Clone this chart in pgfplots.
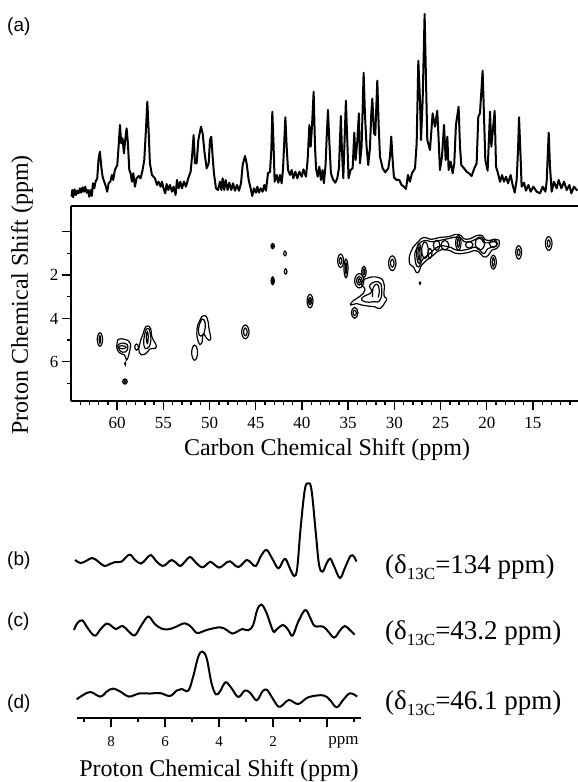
\documentclass[border=0pt]{standalone}
\usepackage{graphicx}
\usepackage{fontspec}
\setmainfont{Liberation Serif}
\newfontfamily\arial{Liberation Sans}
\usepackage{pgfplots}
\pgfplotsset{compat=1.18}
\pgfplotsset{every axis/.append style={scale only axis, anchor=south west, /pgf/number format/assume math mode=true}}
\tikzset{ct/.style={black, line width=1.2pt, smooth cycle, tension=0.9},
         co/.style={black, line width=1.2pt, smooth, tension=0.7}}
\begin{document}
\begin{tikzpicture}[x=1pt,y=1pt]
\path[use as bounding box] (0,0) rectangle (578pt,782pt);
% ---------- (a) 1D carbon spectrum
\begin{axis}[at={(71pt,582pt)}, width=507pt, height=200pt, x dir=reverse,
  xmin=10.13, xmax=65, ymin=0, ymax=200, hide axis, clip=false]
\addplot[black, line width=2pt, line join=round] coordinates {
(64.94,3.3)(64.86,10)(64.76,2.7)(64.61,10.7)(64.47,5)(64.32,9.3)(64.18,6.7)(64.03,11.7)(63.89,7.3)(63.75,12.7)
(63.60,8.3)(63.46,13.3)(63.31,7.3)(63.17,10)(63.02,3.3)(62.88,10)(62.74,4)(62.63,16.7)(62.48,11.7)(62.34,18.3)
(62.16,21.7)(62.01,41.7)(61.87,48.3)(61.72,33.3)(61.58,23.3)(61.40,18.3)(61.22,13.3)(61.08,8.3)(60.93,16.7)(60.75,18.3)
(60.57,25)(60.43,20)(60.25,30)(59.99,35)(59.85,53.3)(59.70,75)(59.56,56.7)(59.42,61.7)(59.27,46.7)(59.13,60)
(58.98,71.7)(58.84,56.7)(58.69,30)(58.55,26.7)(58.40,18.3)(58.26,26.7)(58.08,13.3)(57.90,21.7)(57.68,24)(57.47,21.7)
(57.25,30)(57.07,40)(56.89,70)(56.74,98.3)(56.60,70)(56.46,36.7)(56.24,25)(55.91,21.7)(55.70,15)(55.52,18.3)
(55.30,13.3)(55.16,18.3)(54.94,10)(54.80,6.7)(54.65,16)(54.47,10)(54.29,15)(54.07,8.3)(53.89,13.3)(53.68,5)
(53.53,20)(53.35,11.7)(53.17,18.3)(52.99,11.7)(52.77,18.3)(52.56,13.3)(52.31,21.7)(52.05,28.3)(51.87,46.7)(51.73,65)
(51.58,36.7)(51.40,36.7)(51.22,60)(50.93,73.3)(50.75,66.7)(50.54,46.7)(50.32,31.7)(50.10,36.7)(49.96,60)(49.82,63.3)
(49.67,43.3)(49.53,26.7)(49.31,11.7)(49.09,10)(48.88,18.3)(48.73,10)(48.59,21.7)(48.41,10)(48.26,20)(48.05,10)
(47.87,17.3)(47.65,10)(47.47,16.7)(47.25,9.3)(47.04,15)(46.82,9.3)(46.60,16.7)(46.42,35)(46.17,44)(45.99,36.7)
(45.77,20)(45.56,11.7)(45.38,4)(45.20,11.7)(44.98,7.3)(44.83,13.3)(44.65,7.3)(44.47,11.7)(44.26,8.3)(44.08,15)
(43.90,9.3)(43.68,26.7)(43.46,28.3)(43.32,50)(43.21,88.3)(43.07,53.3)(42.96,18.3)(42.74,25)(42.56,17.3)(42.38,25)
(42.20,16.7)(42.06,30)(41.91,60)(41.80,82.7)(41.66,53.3)(41.51,30)(41.30,25)(41.12,30)(40.94,21.7)(40.72,28.3)
(40.50,21.7)(40.29,28.3)(40.03,23.3)(39.85,30.7)(39.57,23.3)(39.39,40)(39.20,75)(39.06,53.3)(38.92,73.3)(38.74,108.3)
(38.59,53.3)(38.48,31.7)(38.30,23.3)(38.12,33.3)
(37.95,20)(37.77,30)(37.63,16.7)(37.45,35)(37.34,60)(37.19,90)(37.05,60)(36.87,26.7)(36.62,20)(36.40,17.3)
(36.18,21.7)(36.00,31.7)(35.89,60)(35.79,84)(35.68,50)(35.53,21.7)(35.39,60)(35.25,99.3)(35.10,60)(34.96,21.7)
(34.74,30)(34.52,31.7)(34.34,67.3)(34.20,40)(34.02,58.3)(33.84,86.7)(33.73,36.7)(33.55,53.3)(33.33,127.3)(33.19,86.7)
(33.01,53.3)(32.83,35)(32.65,51.7)(32.50,86.7)(32.39,101.3)(32.21,66.7)(32.07,65)(31.85,119.3)(31.71,76.7)(31.56,43.3)
(31.27,31.7)(30.99,27.7)(30.66,31.7)(30.48,43.3)(30.34,63.3)(30.19,40)(30.05,22.7)(29.76,20)(29.47,20)(29.22,15)
(28.97,13.3)(28.75,11)(28.53,25)(28.32,18.3)(28.10,26.7)(27.77,31.7)(27.59,56.7)(27.41,139.3)(27.23,100)(27.12,60)
(26.94,100)(26.73,186)(26.58,120)(26.44,60)(26.15,50)(25.86,86.7)(25.61,73.3)(25.36,89.3)(25.21,60)(25.07,30)
(24.85,43.3)(24.63,75)(24.45,40)(24.27,63.3)(24.13,30)(23.91,38.3)(23.70,26.7)(23.52,36.7)(23.34,75)(23.05,93.3)
(22.90,53.3)(22.76,35)(22.47,31.7)(22.18,28.3)(21.93,26.7)(21.64,24)(21.35,31.7)(21.10,36.7)(20.92,83.3)(20.74,86.7)
(20.45,129.3)(20.30,83.3)(20.16,40)(19.91,29.3)(19.65,88.3)(19.51,53.3)(19.37,66.7)(19.15,89.3)(19.00,33.3)(18.79,26.7)
(18.57,18.3)(18.35,25)(18.14,18.3)(17.92,23.3)(17.70,16.7)(17.42,25)(17.20,15)(16.98,7.3)(16.77,20)(16.62,50)
(16.51,82.7)(16.37,50)(16.23,13.3)(15.97,17.3)(15.76,9.3)(15.50,15)(15.25,8.3)(14.96,13.3)(14.60,8.3)(14.24,6.7)
(13.95,13.3)(13.66,8.3)(13.52,18.3)(13.30,67.3)(13.16,33.3)(12.98,8.3)(12.73,18.3)(12.44,11.7)(12.22,20)(11.93,11.7)
(11.64,18.3)(11.35,10)(11.06,15)(10.85,6.7)(10.56,13.3)(10.20,9.3)
};
\end{axis}
% ---------- 2D contour map
\begin{axis}[at={(71pt,381pt)}, width=507pt, height=195pt, x dir=reverse, y dir=reverse,
  xmin=10.13, xmax=65, ymin=-1.19, ymax=7.81,
  axis x line*=bottom, axis y line*=left,
  axis line style={line width=1.4pt, -},
  xtick={60,55,50,45,40,35,30,25,20,15},
  minor xtick={11,12,13,14,16,17,18,19,21,22,23,24,26,27,28,29,31,32,33,34,36,37,38,39,41,42,43,44,46,47,48,49,51,52,53,54,56,57,58,59,61,62,63,64},
  ytick={0,2,4,6}, yticklabels={,2,4,6}, minor ytick={1,3,5,7},
  tick align=outside,
  major tick length=9pt, minor tick length=4pt,
  tick style={black, line width=1.4pt},
  xticklabel style={font=\fontsize{17}{17}\selectfont, yshift=-4pt},
  yticklabel style={font=\fontsize{17}{17}\selectfont},
  clip=false]
\draw[black, line width=1.4pt] (rel axis cs:0,1) -- (rel axis cs:1,1);
% left half
\addplot[ct] coordinates {(42.99,.66)(43.17,.78)(43.35,.66)(43.17,.54)};
\addplot[ct] coordinates {(43.10,.66)(43.17,.71)(43.24,.66)(43.17,.61)};
\addplot[ct] coordinates {(41.70,1.0)(41.84,1.11)(41.98,1.0)(41.84,.89)};
\addplot[ct] coordinates {(41.63,1.83)(41.77,1.95)(41.91,1.83)(41.77,1.71)};
\addplot[ct] coordinates {(42.99,2.26)(43.17,2.44)(43.35,2.26)(43.17,2.08)};
\addplot[ct] coordinates {(43.10,2.26)(43.17,2.36)(43.24,2.26)(43.17,2.16)};
\addplot[ct] coordinates {(38.81,3.2)(39.13,3.51)(39.45,3.2)(39.13,2.89)};
\addplot[ct] coordinates {(38.96,3.2)(39.13,3.37)(39.30,3.2)(39.13,3.03)};
\addplot[ct] coordinates {(39.06,3.2)(39.13,3.28)(39.20,3.2)(39.13,3.12)};
\addplot[ct] coordinates {(45.73,4.62)(46.13,4.94)(46.53,4.62)(46.13,4.30)};
\addplot[ct] coordinates {(45.93,4.62)(46.13,4.80)(46.33,4.62)(46.13,4.44)};
\addplot[ct] coordinates {(51.30,5.58)(51.62,5.93)(51.94,5.58)(51.62,5.23)};
\addplot[ct] coordinates {(61.58,4.97)(61.87,5.28)(62.16,4.97)(61.87,4.66)};
\addplot[ct] coordinates {(61.79,4.97)(61.87,5.14)(61.95,4.97)(61.87,4.80)};
\addplot[ct] coordinates {(58.91,6.91)(59.16,7.03)(59.41,6.91)(59.16,6.79)};
\addplot[ct] coordinates {(59.08,6.91)(59.16,6.96)(59.24,6.91)(59.16,6.86)};
\addplot[ct] coordinates {(59.08,6.09)(59.13,6.15)(59.18,6.09)(59.13,6.03)};
\addplot[ct] coordinates {(57.70,5.32)(57.90,5.46)(58.10,5.32)(57.90,5.18)};
\addplot[ct] coordinates {(59.99,5.08)(59.78,4.95)(59.16,4.97)(58.69,5.08)(58.55,5.31)(58.73,5.65)(58.98,5.92)(59.20,5.69)(59.78,5.58)(60.06,5.31)};
\addplot[ct] coordinates {(59.78,5.18)(59.16,5.15)(58.84,5.31)(59.13,5.55)(59.70,5.49)(59.92,5.34)};
\addplot[ct] coordinates {(59.78,5.28)(59.16,5.28)(59.16,5.38)(59.70,5.38)};
\addplot[ct] coordinates {(56.74,4.35)(56.38,4.46)(56.24,4.85)(55.77,5.31)(56.46,5.41)(57.0,5.65)(57.61,5.58)(57.54,5.15)(57.18,4.69)(57.0,4.46)};
\addplot[ct] coordinates {(56.71,4.46)(56.46,4.62)(56.38,5.08)(56.74,5.38)(57.11,5.23)(57.0,4.69)};
\addplot[ct] coordinates {(56.74,4.62)(56.64,4.85)(56.74,5.15)(56.85,4.85)};
\addplot[ct] coordinates {(50.68,3.88)(50.25,4.0)(50.07,4.46)(49.89,4.97)(50.32,4.92)(50.68,4.72)(50.86,5.15)(51.22,5.08)(51.37,4.54)(51.04,4.08)};
\addplot[ct] coordinates {(50.75,4.03)(50.46,4.23)(50.57,4.61)(50.75,4.77)(51.11,4.77)(51.19,4.46)(50.97,4.15)};
% right half
\addplot[ct] coordinates {(35.50,1.34)(35.82,1.65)(36.14,1.34)(35.82,1.03)};
\addplot[ct] coordinates {(35.68,1.34)(35.82,1.49)(35.96,1.34)(35.82,1.19)};
\addplot[ct] coordinates {(35.02,1.69)(35.24,2.12)(35.46,1.69)(35.24,1.26)};
\addplot[ct] coordinates {(35.16,1.69)(35.24,1.94)(35.32,1.69)(35.24,1.44)};
\addplot[ct] coordinates {(33.05,1.85)(33.30,2.11)(33.55,1.85)(33.30,1.59)};
\addplot[ct] coordinates {(33.20,1.85)(33.30,1.98)(33.40,1.85)(33.30,1.72)};
\addplot[ct] coordinates {(33.30,2.26)(33.80,2.59)(34.30,2.26)(33.80,1.93)};
\addplot[ct] coordinates {(33.50,2.26)(33.80,2.46)(34.10,2.26)(33.80,2.06)};
\addplot[ct] coordinates {(33.68,2.26)(33.80,2.36)(33.92,2.26)(33.80,2.16)};
\addplot[ct] coordinates {(29.83,1.45)(30.23,1.79)(30.63,1.45)(30.23,1.11)};
\addplot[ct] coordinates {(30.03,1.45)(30.23,1.63)(30.43,1.45)(30.23,1.27)};
\addplot[ct] coordinates {(16.23,.95)(16.55,1.26)(16.87,.95)(16.55,.64)};
\addplot[ct] coordinates {(16.40,.95)(16.55,1.10)(16.70,.95)(16.55,.80)};
\addplot[ct] coordinates {(12.94,.54)(13.30,.86)(13.66,.54)(13.30,.22)};
\addplot[ct] coordinates {(13.14,.54)(13.30,.70)(13.46,.54)(13.30,.38)};
\addplot[ct] coordinates {(18.97,1.40)(19.29,1.72)(19.61,1.40)(19.29,1.08)};
\addplot[ct] coordinates {(19.17,1.40)(19.29,1.60)(19.41,1.40)(19.29,1.20)};
\addplot[ct] coordinates {(27.15,2.37)(27.23,2.42)(27.31,2.37)(27.23,2.32)};
\addplot[ct] coordinates {(33.94,3.74)(34.30,3.99)(34.66,3.74)(34.30,3.49)};
\addplot[ct] coordinates {(34.12,3.74)(34.30,3.86)(34.48,3.74)(34.30,3.62)};
\addplot[ct] coordinates {(33.55,2.39)(33.01,2.15)(31.74,2.11)(31.13,2.39)(31.13,2.92)(30.84,3.08)(31.02,3.26)(31.56,3.54)(32.11,3.46)(32.83,3.43)(33.55,3.38)(34.09,3.31)(34.74,3.38)(34.45,3.18)(33.80,3.0)(33.19,2.69)};
\addplot[ct] coordinates {(32.65,2.46)(31.74,2.31)(31.38,2.62)(31.56,3.15)(32.29,3.23)(33.19,3.23)(33.55,3.08)(33.01,2.92)(32.47,2.77)};
\addplot[co] coordinates {(32.36,3.0)(32.29,2.57)(31.85,2.42)(31.64,2.69)(31.74,3.03)};
% band
\addplot[ct] coordinates {(28.39,1.39)(28.14,.85)(27.41,.46)(26.80,.26)(25.97,.35)(25.07,.26)(24.17,.23)(23.08,.12)(22.18,.35)(20.74,.15)(20.02,.39)(18.93,.35)(18.64,.54)(18.93,.77)(19.47,.85)(19.83,1.08)(20.38,1.15)(21.10,.88)(22.18,.97)(23.26,1.0)(24.17,.85)(25.07,.85)(25.79,1.08)(26.51,1.31)(27.05,1.54)(27.49,1.89)(27.95,1.62)};
\addplot[ct] coordinates {(27.77,1.23)(27.59,.77)(26.87,.42)(25.79,.46)(24.53,.35)(23.08,.26)(22.18,.48)(20.81,.31)(20.20,.51)(19.11,.46)(19.0,.66)(19.83,.77)(20.38,1.0)(21.10,.72)(22.18,.82)(23.19,.85)(24.17,.69)(25.25,.69)(26.15,1.0)(26.87,1.23)(27.41,1.62)};
\addplot[ct] coordinates {(24.10,.62)(24.53,.84)(24.96,.62)(24.53,.40)};
\addplot[ct] coordinates {(22.79,.51)(23.08,.85)(23.37,.51)(23.08,.17)};
\addplot[ct] coordinates {(22.96,.51)(23.08,.71)(23.20,.51)(23.08,.31)};
\addplot[ct] coordinates {(20.24,.54)(20.74,.84)(21.24,.54)(20.74,.24)};
\addplot[ct] coordinates {(18.86,.54)(19.29,.72)(19.72,.54)(19.29,.36)};
\addplot[ct] coordinates {(25.07,.62)(25.43,.85)(25.79,.62)(25.43,.39)};
\addplot[ct] coordinates {(27.09,1.0)(27.34,1.46)(27.59,1.0)(27.34,.54)};
\addplot[ct] coordinates {(27.24,1.0)(27.34,1.30)(27.44,1.0)(27.34,.70)};
\addplot[ct] coordinates {(26.33,.85)(26.69,1.23)(27.05,.85)(26.69,.47)};
\addplot[ct] coordinates {(25.93,1.0)(26.15,1.23)(26.37,1.0)(26.15,.77)};
\addplot[ct] coordinates {(21.50,.60)(21.90,.75)(22.30,.60)(21.90,.45)};
\end{axis}
% ---------- 1D proton slices
\begin{axis}[at={(76.7pt,63.7pt)}, width=284pt, height=250pt, x dir=reverse,
  xmin=-1.24, xmax=9.27, ymin=0, ymax=250,
  axis x line*=bottom, axis y line=none,
  axis line style={line width=1.8pt, -},
  xtick={0,2,4,6,8}, xticklabels={,2,4,6,8}, minor xtick={-1,1,3,5,7,9},
  tick align=outside, major tick length=9pt, minor tick length=4pt,
  tick style={black, line width=1.6pt},
  xticklabel style={font=\fontsize{15}{15}\selectfont, yshift=-6pt},
  clip=false]
\addplot[black, line width=2pt, smooth, tension=0.6] coordinates {
(9.33,158.3)(9.12,155.3)(8.90,157.7)(8.69,160.3)(8.47,156.7)(8.25,152.3)(8.04,154.3)(7.85,156.3)(7.61,156.7)(7.32,163.7)
(7.11,158.3)(6.89,154.7)(6.71,159)(6.53,163.3)(6.31,156.7)(6.09,152.3)(5.92,155)(5.76,158.3)(5.57,155)(5.43,152.3)
(5.23,157.7)(5.07,161.3)(4.86,155.7)(4.62,151)(4.38,155.7)(4.28,156)(4.00,150.7)(3.79,154.3)(3.60,157)(3.29,151.3)
(2.98,158.3)(2.80,155)(2.64,152.3)(2.43,163.3)(2.24,168.3)(2.04,160)(1.81,150)(1.63,157.7)(1.53,159)(1.38,150)
(1.22,142.3)(1.11,150)(0.99,188.3)(0.83,228.3)(0.70,235)(0.58,228.3)(0.42,185)(0.30,153.3)(0.17,146.7)(0.02,155)
(-0.11,159.7)(-0.26,151.7)(-0.47,140.3)(-0.65,150)(-0.86,162.3)(-0.99,161.7)(-1.08,156.7)};
\addplot[black, line width=2pt, smooth, tension=0.6] coordinates {
(9.37,88.3)(9.25,95)(9.07,98)(8.90,91.7)(8.72,85)(8.57,82.7)(8.39,89)(8.16,94.7)(7.98,92.3)(7.82,89.3)
(7.57,92.3)(7.36,87.3)(7.12,83)(6.87,93.3)(6.62,101.7)(6.38,94.3)(6.13,89.7)(5.88,89)(5.64,91)(5.27,95)
(5.02,91)(4.81,85.3)(4.46,88.3)(3.97,91)(3.72,88.3)(3.51,84.7)(3.29,87.3)(3.13,89.3)(2.92,88)(2.74,93.3)
(2.59,108.3)(2.43,113.7)(2.24,105)(2.00,87.3)(1.87,89)(1.63,93.3)(1.44,88.3)(1.28,82.7)(1.07,96.7)(0.81,108.3)
(0.62,100)(0.46,92.3)(0.15,91.7)(-0.04,86.7)(-0.26,80.7)(-0.47,87.7)(-0.65,92.3)(-0.84,88.3)(-1.01,83.7)};
\addplot[black, line width=2pt, smooth, tension=0.6] coordinates {
(9.27,19)(9.03,23.3)(8.76,26.3)(8.39,21.7)(8.16,26.7)(7.92,29.7)(7.61,26)(7.34,21.7)(6.93,25)(6.56,24.7)
(6.19,25.3)(5.82,22.3)(5.57,27.7)(5.39,29.3)(5.14,27.7)(4.96,41.7)(4.77,61.7)(4.62,66.7)(4.46,60)(4.28,35)
(4.12,24)(3.97,26.7)(3.76,36)(3.54,30)(3.29,21.3)(3.05,27.7)(2.86,25.7)(2.61,18)(2.40,26.7)(2.24,28.7)
(2.06,21.7)(1.81,11.7)(1.65,13.3)(1.41,18.3)(1.07,14.3)(0.70,21)(0.15,23)(-0.10,18.3)(-0.35,11)(-0.59,18.3)
(-0.84,25)(-1.11,21.7)};
\end{axis}
% ---------- texts
\def\rl{\fontsize{24}{24}\selectfont}
\def\sb#1{\raisebox{-0.22em}{\fontsize{17}{17}\selectfont #1}}
\node[font=\rl] at (327pt,332pt) {Carbon Chemical Shift (ppm)};
\node[font=\rl, rotate=90] at (22pt,487pt) {Proton Chemical Shift (ppm)};
\node[font=\rl] at (219pt,11pt) {Proton Chemical Shift (ppm)};
\node[font=\fontsize{17}{17}\selectfont] at (343.5pt,40pt) {ppm};
\node[font=\arial\fontsize{19}{19}\selectfont, anchor=west, inner sep=0pt] at (7pt,755pt) {(a)};
\node[font=\arial\fontsize{19}{19}\selectfont, anchor=west, inner sep=0pt] at (7pt,221pt) {(b)};
\node[font=\arial\fontsize{19}{19}\selectfont, anchor=west, inner sep=0pt] at (7pt,160pt) {(c)};
\node[font=\arial\fontsize{19}{19}\selectfont, anchor=west, inner sep=0pt] at (7pt,78pt) {(d)};
\node[font=\fontsize{27}{27}\selectfont, anchor=west, inner sep=0pt] at (385pt,215pt) {(δ\sb{13C}=134 ppm)};
\node[font=\fontsize{27}{27}\selectfont, anchor=west, inner sep=0pt] at (385pt,149pt) {(δ\sb{13C}=43.2 ppm)};
\node[font=\fontsize{27}{27}\selectfont, anchor=west, inner sep=0pt] at (385pt,79pt) {(δ\sb{13C}=46.1 ppm)};
\end{tikzpicture}
\end{document}
